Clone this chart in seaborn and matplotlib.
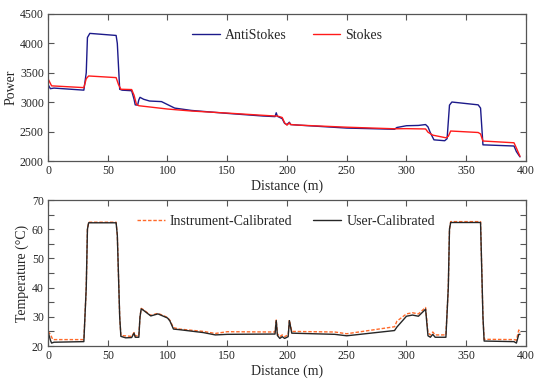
import matplotlib
matplotlib.use("Agg")
import matplotlib.pyplot as plt
import seaborn as sns
import pandas as pd
from matplotlib.ticker import MultipleLocator

# ---- data ----
as_dist = [0, 2, 5, 30, 32, 33, 35, 57, 58, 60, 62, 70, 72, 73, 75, 76, 77, 80, 85, 95, 100, 103, 106,
           120, 150, 180, 190, 191, 192, 196, 198, 200, 202, 203, 210, 250, 290, 292, 300, 310, 316,
           318, 320, 323, 332, 334, 336, 338, 360, 362, 364, 390, 392, 395]
as_power = [3300, 3230, 3240, 3205, 3500, 4100, 4170, 4135, 4000, 3220, 3205, 3195, 3050, 2955, 2950,
            3040, 3083, 3050, 3020, 3010, 2960, 2930, 2900, 2860, 2810, 2765, 2755, 2820, 2760, 2720,
            2640, 2620, 2660, 2620, 2610, 2560, 2540, 2570, 2600, 2605, 2620, 2580, 2480, 2360, 2345,
            2380, 2950, 3003, 2955, 2900, 2275, 2255, 2160, 2070]

st_dist = [0, 3, 30, 32, 34, 57, 59, 61, 70, 72, 74, 76, 100, 120, 150, 180, 190, 192, 196, 198, 200,
           202, 203, 210, 250, 290, 300, 316, 318, 322, 333, 335, 337, 360, 362, 364, 390, 392, 395]
st_power = [3400, 3278, 3248, 3400, 3446, 3418, 3300, 3220, 3215, 3120, 2965, 2940, 2884, 2850, 2815,
            2777, 2765, 2765, 2740, 2650, 2610, 2650, 2620, 2610, 2575, 2548, 2550, 2545, 2490, 2440,
            2395, 2420, 2510, 2485, 2460, 2340, 2310, 2220, 2080]

ic_dist = [0, 2, 4, 30, 32, 33, 34, 57, 58, 60, 61, 70, 72, 73, 76, 77, 78, 80, 86, 92, 100, 102, 105,
           110, 130, 140, 150, 190, 191, 192, 194, 196, 198, 201, 202, 204, 240, 250, 290, 292, 300,
           305, 310, 316, 318, 320, 322, 324, 333, 335, 336, 337, 362, 364, 365, 390, 392, 394, 395]
ic_temp = [25, 24, 22.2, 22.2, 40, 60, 62.4, 62.4, 58, 30, 23.6, 23.3, 24.6, 23.5, 23.5, 30, 32.9, 32.4,
           30.5, 31.2, 29.8, 28.8, 26.3, 25.8, 25.0, 24.3, 24.9, 24.8, 28.9, 24.2, 23.2, 23.8, 23.2, 23.8,
           28.9, 25.0, 24.8, 24.2, 26.6, 28.5, 31.0, 31.4, 31.0, 33.2, 24.5, 23.8, 24.8, 23.8, 23.8, 40,
           60, 62.6, 62.6, 30, 22.3, 22.2, 22.0, 25.5, 24.5]

uc_dist = [0, 2, 3, 5, 30, 32, 33, 34, 57, 58, 60, 61, 65, 70, 72, 73, 76, 77, 78, 80, 86, 92, 100,
           102, 105, 110, 130, 140, 150, 190, 191, 192, 194, 196, 198, 201, 202, 204, 240, 250, 290,
           292, 300, 305, 310, 316, 318, 320, 322, 324, 333, 335, 336, 337, 362, 364, 365, 390, 392,
           394, 395]
uc_temp = [25, 22, 21, 21.3, 21.5, 40, 60, 62.2, 62.2, 58, 30, 23.3, 22.8, 22.9, 24.4, 23.0, 23.0, 30,
           32.7, 32.2, 30.3, 31.0, 29.6, 28.6, 25.8, 25.6, 24.6, 23.8, 24.0, 24.1, 28.7, 23.6, 22.6, 23.2,
           22.6, 23.2, 28.7, 24.4, 24.0, 23.5, 25.3, 26.5, 30.2, 30.6, 30.2, 32.6, 23.5, 23.0, 24.0, 23.0,
           23.0, 40, 60, 62.3, 62.3, 30, 21.7, 21.5, 21.0, 24.0, 24.0]

sns.set_style("ticks")
plt.rcParams['font.family'] = ['Liberation Serif', 'DejaVu Serif']

fig = plt.figure(figsize=(5.4, 3.82), dpi=100)
ax1 = fig.add_axes([0.0889, 0.5785, 0.8851, 0.3849])
ax2 = fig.add_axes([0.0889, 0.0942, 0.8851, 0.3822])

df_as = pd.DataFrame({"Distance": as_dist, "Power": as_power})
df_st = pd.DataFrame({"Distance": st_dist, "Power": st_power})
sns.lineplot(data=df_as, x="Distance", y="Power", ax=ax1, color="#1c1a8a", lw=1.0, label="AntiStokes")
sns.lineplot(data=df_st, x="Distance", y="Power", ax=ax1, color="#ff1a1a", lw=1.0, label="Stokes")

df_ic = pd.DataFrame({"Distance": ic_dist, "T": ic_temp})
df_uc = pd.DataFrame({"Distance": uc_dist, "T": uc_temp})
sns.lineplot(data=df_ic, x="Distance", y="T", ax=ax2, color="#ff6a2a", lw=1.0, ls=(0, (2.5, 1.3)),
             label="Instrument-Calibrated")
sns.lineplot(data=df_uc, x="Distance", y="T", ax=ax2, color="#262626", lw=1.0, label="User-Calibrated")

for ax in (ax1, ax2):
    ax.set_xlim(0, 400)
    ax.xaxis.set_major_locator(MultipleLocator(50))
    ax.tick_params(direction="in", top=True, right=True, labelsize=8.5, length=4, width=0.8,
                   color="#555555", pad=3)
    ax.tick_params(which="minor", direction="in", top=True, right=True, length=4, width=0.8,
                   color="#555555")
    for s in ax.spines.values():
        s.set_color("#555555")
        s.set_linewidth(0.9)
    ax.set_xlabel("Distance (m)", fontsize=10, labelpad=2)

ax1.set_ylim(2000, 4500)
ax1.yaxis.set_major_locator(MultipleLocator(500))
ax1.set_ylabel("Power", fontsize=10, labelpad=2)
ax1.legend(loc="center", bbox_to_anchor=(0.501, 0.857), ncol=2, frameon=False, fontsize=10,
           handlelength=2.0, columnspacing=1.85, handletextpad=0.36, borderpad=0, borderaxespad=0)

ax2.set_ylim(20, 70)
ax2.yaxis.set_major_locator(MultipleLocator(10))
ax2.yaxis.set_minor_locator(MultipleLocator(5))
ax2.set_ylabel("Temperature (°C)", fontsize=10, labelpad=2)
ax2.legend(loc="center", bbox_to_anchor=(0.498, 0.856), ncol=2, frameon=False, fontsize=10,
           handlelength=2.0, columnspacing=1.5, handletextpad=0.36, borderpad=0, borderaxespad=0)

fig.savefig("out.png", dpi=100)
